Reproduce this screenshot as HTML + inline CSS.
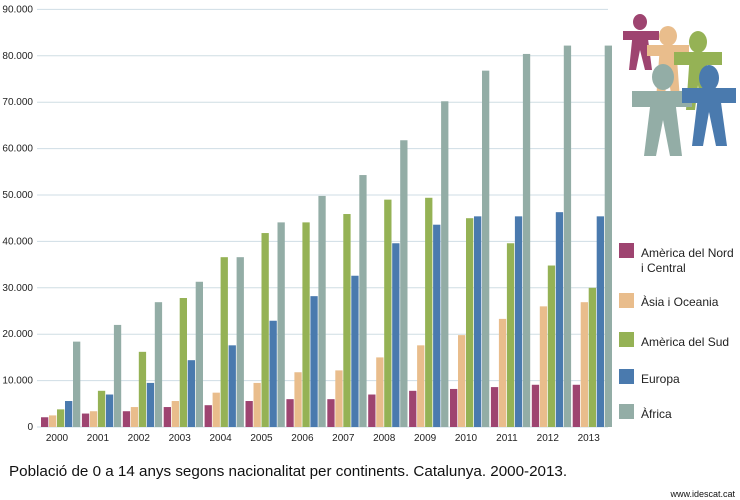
<!DOCTYPE html>
<html><head><meta charset="utf-8"><style>
html,body{margin:0;padding:0;background:#fff;width:740px;height:500px;overflow:hidden}
svg{display:block;font-family:"Liberation Sans",sans-serif}
</style></head><body>
<svg id="s" width="740" height="500" xmlns="http://www.w3.org/2000/svg">
<g id="grid"></g><g id="bars"></g>
<g>
<ellipse cx="640" cy="22" rx="7" ry="8" fill="#9e4470"/>
<rect x="623" y="31" width="36" height="9" fill="#9e4470"/>
<polygon points="633,31 647,31 652,70 645,70 640,50 636,70 629,70" fill="#9e4470"/>
<ellipse cx="668" cy="36" rx="9" ry="10" fill="#e9bd8c"/>
<rect x="647" y="45" width="42" height="11" fill="#e9bd8c"/>
<polygon points="660,45 676,45 680,100 672,100 668,75 664,100 656,100" fill="#e9bd8c"/>
<ellipse cx="698" cy="42" rx="9" ry="11" fill="#95b255"/>
<rect x="674" y="52" width="48" height="13" fill="#95b255"/>
<polygon points="690,52 706,52 710,110 701,110 698,85 695,110 686,110" fill="#95b255"/>
<ellipse cx="663" cy="77" rx="11" ry="13" fill="#93ada6"/>
<rect x="632" y="91" width="60" height="16" fill="#93ada6"/>
<polygon points="652,91 674,91 682,156 670,156 663,120 656,156 644,156" fill="#93ada6"/>
<ellipse cx="709" cy="78" rx="10" ry="13" fill="#4a7aae"/>
<rect x="682" y="88" width="54" height="15" fill="#4a7aae"/>
<polygon points="699,88 719,88 727,146 716,146 709,112 703,146 692,146" fill="#4a7aae"/>
</g>
<g font-size="12" fill="#222">
<rect x="619" y="243" width="15" height="15" fill="#9e4470"/>
<text x="641" y="257">Amèrica del Nord</text><text x="641" y="272">i Central</text>
<rect x="619" y="293" width="15" height="15" fill="#e9bd8c"/><text x="641" y="306">Àsia i Oceania</text>
<rect x="619" y="332" width="15" height="15" fill="#95b255"/><text x="641" y="346">Amèrica del Sud</text>
<rect x="619" y="369" width="15" height="15" fill="#4a7aae"/><text x="641" y="383">Europa</text>
<rect x="619" y="404" width="15" height="15" fill="#93ada6"/><text x="641" y="418">Àfrica</text>
</g>
<text x="9" y="476" font-size="15.2" fill="#111">Població de 0 a 14 anys segons nacionalitat per continents. Catalunya. 2000-2013.</text>
<text x="735" y="497" font-size="9" fill="#111" text-anchor="end">www.idescat.cat</text>
</svg>
<script>
var d=[[2100,2500,3800,5600,18400],[2900,3400,7800,7000,22000],[3400,4300,16200,9500,26900],[4300,5600,27800,14400,31300],[4700,7400,36600,17600,36600],[5600,9500,41800,22900,44100],[6000,11800,44100,28200,49800],[6000,12200,45900,32600,54300],[7000,15000,49000,39600,61800],[7800,17600,49400,43600,70200],[8200,19800,45000,45400,76800],[8600,23300,39600,45400,80400],[9100,26000,34800,46300,82200],[9100,26900,30000,45400,82200]];
var c=["#9e4470","#e9bd8c","#95b255","#4a7aae","#93ada6"];
var NS="http://www.w3.org/2000/svg",g=document.getElementById("grid"),b=document.getElementById("bars");
function el(p,t,a,txt){var e=document.createElementNS(NS,t);for(var k in a)e.setAttribute(k,a[k]);if(txt)e.textContent=txt;p.appendChild(e);}
var y0=427,k=46.4/10000;
for(var i=0;i<=9;i++){var y=y0-i*46.4;el(g,"line",{x1:37,x2:608,y1:y,y2:y,stroke:"#cfdde4","stroke-width":1});
el(g,"text",{x:33,y:y+3,"font-size":10,"text-anchor":"end",fill:"#222"},i==0?"0":(i*10)+".000");}
for(var j=0;j<14;j++){var x0=41+j*40.9;
el(g,"text",{x:x0+16,y:441,"font-size":10,"text-anchor":"middle",fill:"#222"},String(2000+j));
for(var s=0;s<5;s++){var h=d[j][s]*k;el(b,"rect",{x:x0+s*8,y:y0-h,width:7.3,height:h,fill:c[s]});}}
</script>
</body></html>
